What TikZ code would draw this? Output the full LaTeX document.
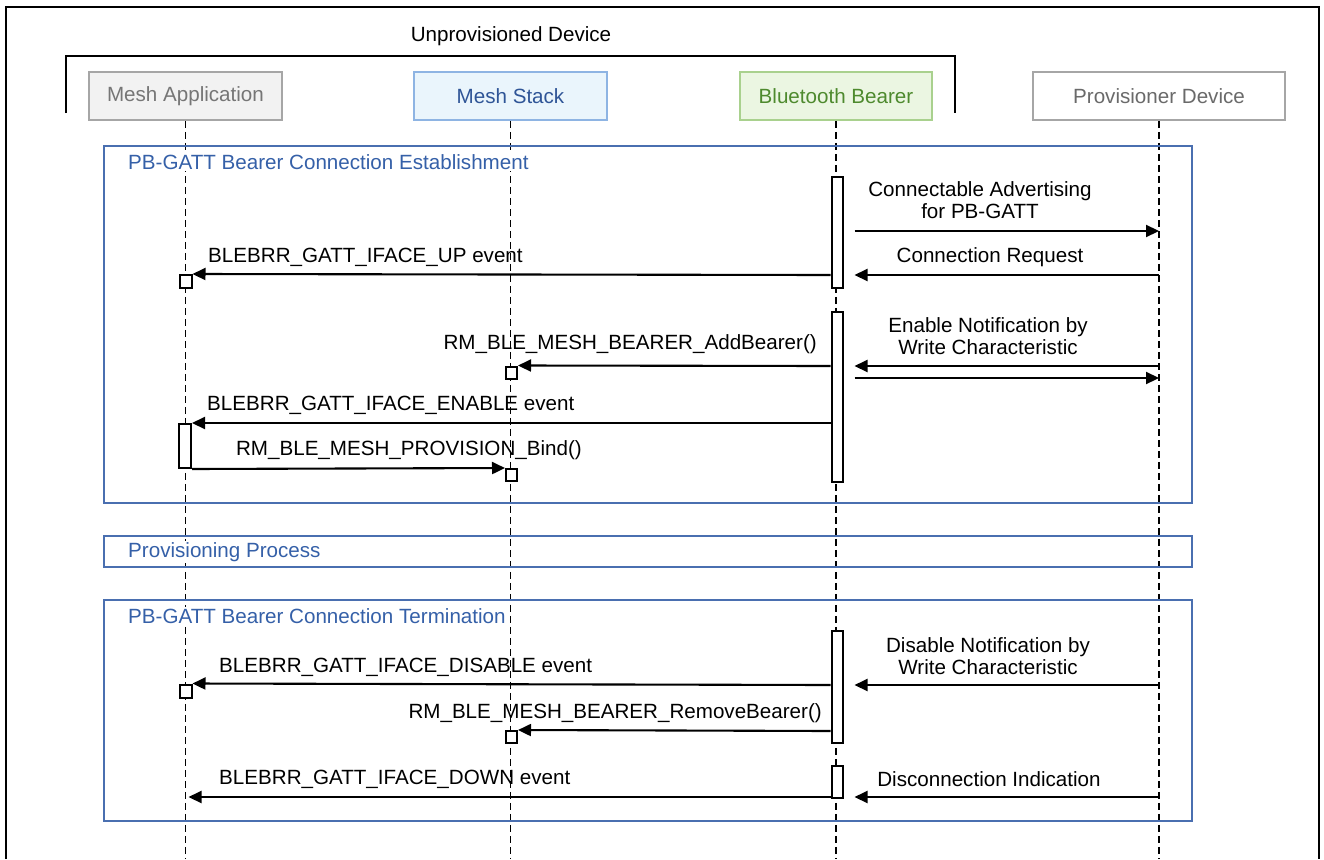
\documentclass[tikz,border=0pt]{standalone}
\usepackage{fontspec}
\setmainfont{Liberation Sans}
\usetikzlibrary{arrows.meta}
\definecolor{appfill}{HTML}{F2F2F2}
\definecolor{appdraw}{HTML}{A6A6A6}
\definecolor{apptext}{HTML}{767676}
\definecolor{stkfill}{HTML}{EAF5FC}
\definecolor{stkdraw}{HTML}{8EB4E3}
\definecolor{stktext}{HTML}{2F5597}
\definecolor{bbfill}{HTML}{EBF6E2}
\definecolor{bbdraw}{HTML}{A9D18E}
\definecolor{bbtext}{HTML}{4E8A2E}
\definecolor{provtext}{HTML}{6A6A6A}
\definecolor{frameblue}{HTML}{4A6FB0}
\definecolor{titleblue}{HTML}{3560A8}
\tikzset{
  txt/.style={font=\fontsize{20.6}{22}\selectfont},
  headbox/.style={draw, line width=1.5pt, minimum height=48pt, inner sep=0pt, txt},
  life/.style={line width=1.8pt, dash pattern=on 7pt off 4pt},
  frm/.style={draw=frameblue, line width=1.6pt},
  ttl/.style={fill=white, inner sep=1pt, anchor=west, text=titleblue, txt},
  msg/.style={line width=2.1pt, -{Triangle[length=13pt,width=12pt]}},
  actbar/.style={draw, fill=white, line width=2pt, minimum width=11pt, inner sep=0pt},
  sqbox/.style={draw=black, fill=white, line width=2pt, minimum width=11pt, minimum height=12pt, inner sep=0pt},
  lbl/.style={inner sep=0pt, align=center, txt},
}
\begin{document}
\begin{tikzpicture}[x=1pt,y=-1pt]
\useasboundingbox (0,0) rectangle (1324,859);
% outer frame
\draw[line width=2.5pt] (6,859) -- (6,7) -- (1319,7) -- (1319,859);
% unprovisioned device bracket
\draw[line width=2pt] (66,113) -- (66,56) -- (955,56) -- (955,113);
\node[lbl] (unp) at (511,36) {Unprovisioned Device};
% headers
\node[headbox, fill=appfill, draw=appdraw, text=apptext, minimum width=193pt] (app) at (185.5,96) {Mesh Application};
\node[headbox, fill=stkfill, draw=stkdraw, text=stktext, minimum width=193pt] (stk) at (510.5,96) {Mesh Stack};
\node[headbox, fill=bbfill, draw=bbdraw, text=bbtext, minimum width=192pt] (bb) at (836,96) {Bluetooth Bearer};
\node[headbox, fill=white, draw=appdraw, text=provtext, minimum width=252pt] (prov) at (1159,96) {Provisioner Device};
% lifelines
\coordinate (bottom) at (0,859);
\draw[life] (app.south) -- (app.south |- bottom);
\draw[life] (stk.south) -- (stk.south |- bottom);
\draw[life] (bb.south) -- (bb.south |- bottom);
\draw[life] (prov.south) -- (prov.south |- bottom);
% frames
\draw[frm] (104,146) rectangle (1192,503);
\draw[frm] (104,536) rectangle (1192,567);
\draw[frm] (104,600) rectangle (1192,821);
\node[ttl] (t1) at (127,162) {PB-GATT Bearer Connection Establishment};
\node[ttl] (t2) at (127,552) {Provisioning Process};
\node[ttl] (t3) at (127,616) {PB-GATT Bearer Connection Termination};
% activation bars
\node[actbar, minimum height=111pt] (a1) at (837,232.5) {};
\node[actbar, minimum height=170pt] (a2) at (837,397) {};
\node[actbar, minimum height=112pt] (a3) at (837,687) {};
\node[actbar, minimum height=32pt] (a4) at (837,782) {};
\node[actbar, minimum height=44pt, minimum width=12pt] (am) at (185,446) {};
% small squares
\node[sqbox, minimum width=12pt, minimum height=13pt] (s1) at (185.5,281.5) {};
\node[sqbox] (s2) at (511.5,372.5) {};
\node[sqbox] (s3) at (511.5,475) {};
\node[sqbox, minimum width=12pt, minimum height=13pt] (s4) at (185.5,691) {};
\node[sqbox] (s5) at (511.5,737) {};
% message levels
\coordinate (y1) at (0,231);
\coordinate (y2) at (0,275);
\coordinate (y3) at (0,366);
\coordinate (y4) at (0,378);
\coordinate (y5) at (0,423);
\coordinate (y6) at (0,467);
\coordinate (y7) at (0,685);
\coordinate (y8) at (0,731);
\coordinate (y9) at (0,797);
% messages: bearer <-> provisioner
\draw[msg] ([xshift=11pt]a1.east |- y1) -- (prov.south |- y1);
\draw[msg] (prov.south |- y2) -- ([xshift=11pt]a1.east |- y2);
\draw[msg] (prov.south |- y3) -- ([xshift=11pt]a2.east |- y3);
\draw[msg] ([xshift=11pt]a2.east |- y4) -- (prov.south |- y4);
\draw[msg] (prov.south |- y7) -- ([xshift=11pt]a3.east |- y7);
\draw[msg] (prov.south |- y9) -- ([xshift=11pt]a4.east |- y9);
% redraw squares below arrowheads
\node[sqbox, minimum width=12pt, minimum height=13pt] at (s1) {};
\node[sqbox] at (s2) {};
\node[sqbox] at (s3) {};
\node[sqbox, minimum width=12pt, minimum height=13pt] at (s4) {};
\node[sqbox] at (s5) {};
% messages: bearer -> stack/app
\draw[msg] (a1.west |- y2) -- (s1.north east);
\draw[msg] (a2.west |- y3) -- (s2.north east);
\draw[msg] (a2.west |- y5) -- (am.north east);
\draw[msg] (am.south east) -- (s3.north west);
\draw[msg] (a3.west |- y7) -- (s4.north east);
\draw[msg] (a3.west |- y8) -- (s5.north east);
\draw[msg] (a4.west |- y9) -- ([xshift=3pt]app.south |- y9);
% labels
\node[lbl] (l1) at (980,200) {Connectable Advertising\\for PB-GATT};
\node[lbl] (l2) at (990,257) {Connection Request};
\node[lbl, anchor=west] (l3) at (208,257) {BLEBRR\_GATT\_IFACE\_UP event};
\node[lbl] (l4) at (988,336) {Enable Notification by\\Write Characteristic};
\node[lbl, anchor=east] (l5) at (817,344) {RM\_BLE\_MESH\_BEARER\_AddBearer()};
\node[lbl, anchor=west] (l6) at (207,405) {BLEBRR\_GATT\_IFACE\_ENABLE event};
\node[lbl, anchor=east] (l7) at (582,450) {RM\_BLE\_MESH\_PROVISION\_Bind()};
\node[lbl] (l8) at (988,656) {Disable Notification by\\Write Characteristic};
\node[lbl, anchor=west] (l9) at (219,667) {BLEBRR\_GATT\_IFACE\_DISABLE event};
\node[lbl, anchor=east] (l10) at (822,713) {RM\_BLE\_MESH\_BEARER\_RemoveBearer()};
\node[lbl] (l11) at (989,779) {Disconnection Indication};
\node[lbl, anchor=west] (l12) at (219,779) {BLEBRR\_GATT\_IFACE\_DOWN event};
\end{tikzpicture}
\end{document}
